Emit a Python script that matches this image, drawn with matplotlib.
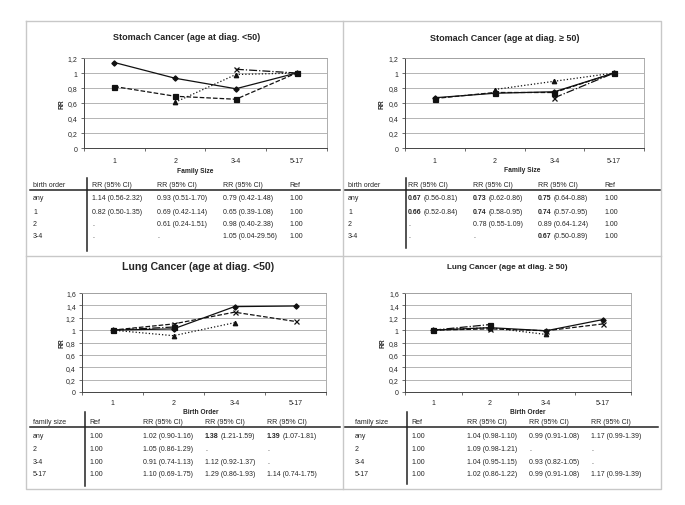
import numpy as np
import matplotlib
matplotlib.use("Agg")
import matplotlib.pyplot as plt
from matplotlib.ticker import FuncFormatter, MultipleLocator, FixedLocator

plt.rcParams['font.family'] = ['Liberation Sans', 'DejaVu Sans']

nan = np.nan

# ---------------- data ----------------
family_size_cats = ["1", "2", "3-4", "5-17"]
birth_order_cats = ["1", "2", "3-4", "5-17"]

# Stomach cancer, age <50 (x = family size)
st_lt50_any = [1.14, 0.93, 0.79, 1.00]
st_lt50_bo1 = [0.82, 0.69, 0.65, 1.00]
st_lt50_bo2 = [nan, 0.61, 0.98, 1.00]
st_lt50_bo34 = [nan, nan, 1.05, 1.00]

# Stomach cancer, age >=50
st_ge50_any = [0.67, 0.73, 0.75, 1.00]
st_ge50_bo1 = [0.66, 0.74, 0.74, 1.00]
st_ge50_bo2 = [nan, 0.78, 0.89, 1.00]
st_ge50_bo34 = [nan, nan, 0.67, 1.00]

# Lung cancer, age <50 (x = birth order)
lu_lt50_any = [1.00, 1.02, 1.38, 1.39]
lu_lt50_fs2 = [1.00, 1.05, nan, nan]
lu_lt50_fs34 = [1.00, 0.91, 1.12, nan]
lu_lt50_fs517 = [1.00, 1.10, 1.29, 1.14]

# Lung cancer, age >=50
lu_ge50_any = [1.00, 1.04, 0.99, 1.17]
lu_ge50_fs2 = [1.00, 1.09, nan, nan]
lu_ge50_fs34 = [1.00, 1.04, 0.93, nan]
lu_ge50_fs517 = [1.00, 1.02, 0.99, 1.10]

# tables
st_row_labels = ["any", "1", "2", "3-4"]
st_header = ["birth order", "RR (95% CI)", "RR (95% CI)", "RR (95% CI)", "Ref"]
st_lt50_table = [
    ["1.14 (0.56-2.32)", "0.93 (0.51-1.70)", "0.79 (0.42-1.48)", "1.00"],
    ["0.82 (0.50-1.35)", "0.69 (0.42-1.14)", "0.65 (0.39-1.08)", "1.00"],
    [".", "0.61 (0.24-1.51)", "0.98 (0.40-2.38)", "1.00"],
    [".", ".", "1.05 (0.04-29.56)", "1.00"],
]
st_lt50_bold = [[0, 0, 0, 0], [0, 0, 0, 0], [0, 0, 0, 0], [0, 0, 0, 0]]
st_ge50_table = [
    ["0.67 (0.56-0.81)", "0.73 (0.62-0.86)", "0.75 (0.64-0.88)", "1.00"],
    ["0.66 (0.52-0.84)", "0.74 (0.58-0.95)", "0.74 (0.57-0.95)", "1.00"],
    [".", "0.78 (0.55-1.09)", "0.89 (0.64-1.24)", "1.00"],
    [".", ".", "0.67 (0.50-0.89)", "1.00"],
]
st_ge50_bold = [[1, 1, 1, 0], [1, 1, 1, 0], [0, 0, 0, 0], [0, 0, 1, 0]]

lu_row_labels = ["any", "2", "3-4", "5-17"]
lu_header = ["family size", "Ref", "RR (95% CI)", "RR (95% CI)", "RR (95% CI)"]
lu_lt50_table = [
    ["1.00", "1.02 (0.90-1.16)", "1.38 (1.21-1.59)", "1.39 (1.07-1.81)"],
    ["1.00", "1.05 (0.86-1.29)", ".", "."],
    ["1.00", "0.91 (0.74-1.13)", "1.12 (0.92-1.37)", "."],
    ["1.00", "1.10 (0.69-1.75)", "1.29 (0.86-1.93)", "1.14 (0.74-1.75)"],
]
lu_lt50_bold = [[0, 0, 1, 1], [0, 0, 0, 0], [0, 0, 0, 0], [0, 0, 0, 0]]
lu_ge50_table = [
    ["1.00", "1.04 (0.98-1.10)", "0.99 (0.91-1.08)", "1.17 (0.99-1.39)"],
    ["1.00", "1.09 (0.98-1.21)", ".", "."],
    ["1.00", "1.04 (0.95-1.15)", "0.93 (0.82-1.05)", "."],
    ["1.00", "1.02 (0.86-1.22)", "0.99 (0.91-1.08)", "1.17 (0.99-1.39)"],
]
lu_ge50_bold = [[0, 0, 0, 0], [0, 0, 0, 0], [0, 0, 0, 0], [0, 0, 0, 0]]

# ---------------- figure ----------------
W, H = 685, 506
fig = plt.figure(figsize=(W / 100, H / 100), dpi=100)
fig.patch.set_facecolor("white")

over = fig.add_axes([0, 0, 1, 1])
over.set_xlim(0, W)
over.set_ylim(H, 0)
over.axis("off")

TXT = "#262626"

# outer frame and dividers
over.plot([26, 661, 661, 26, 26], [22, 22, 490, 490, 22], color="#c8c8c8", lw=1.0)
over.plot([343, 343], [22, 490], color="#c8c8c8", lw=1.0)
over.plot([26, 661], [257, 257], color="#c8c8c8", lw=1.0)

stomach_styles = [("-", "D", 2.7), ("--", "s", 3.6), (":", "^", 3.2), ("-.", "x", 3.6)]
lung_styles = [("-", "D", 2.7), ("-.", "s", 3.6), (":", "^", 3.2), ("--", "x", 3.6)]


def fmt(v, pos):
    s = "%g" % round(v, 1)
    return s.replace(".", ",")


def make_plot(l, r, t, b, series, styles, cats, ymax, title, tx, ty, tsize, xlabel, xlx, xly, rrx, xpad):
    ax = fig.add_axes([l / W, 1 - b / H, (r - l) / W, (b - t) / H])
    x = np.arange(len(cats)) + 0.5
    for vals, (ls, mk, ms) in zip(series, styles):
        ax.plot(x, vals, color="#111111", lw=0.9, ls=ls, marker=mk, ms=ms,
                mew=0.9, mfc="#111111", mec="#111111", zorder=3)
    ax.set_xlim(0, len(cats))
    ax.set_ylim(0, ymax)
    ax.yaxis.set_major_locator(MultipleLocator(0.2))
    ax.yaxis.set_major_formatter(FuncFormatter(fmt))
    ax.xaxis.set_major_locator(FixedLocator(np.arange(len(cats) + 1)))
    ax.xaxis.set_minor_locator(FixedLocator(x))
    ax.set_xticklabels([])
    ax.set_xticklabels(cats, minor=True)
    ax.tick_params(axis="x", which="major", length=2.5, width=0.6, color="#555555")
    ax.tick_params(axis="x", which="minor", length=0, labelsize=5, labelcolor=TXT, pad=xpad)
    ax.tick_params(axis="y", length=2.5, width=0.6, color="#555555", labelsize=5,
                   labelcolor=TXT, pad=2)
    ax.grid(axis="y", color="#a8a8a8", lw=0.6)
    ax.set_axisbelow(True)
    for s in ["top", "right"]:
        ax.spines[s].set_color("#a0a0a0")
        ax.spines[s].set_linewidth(0.6)
    for s in ["left", "bottom"]:
        ax.spines[s].set_color("#444444")
        ax.spines[s].set_linewidth(0.7)
    over.text(tx, ty, title, ha="center", va="center", fontsize=tsize, weight="bold", color=TXT)
    over.text(xlx, xly, xlabel, ha="center", va="center", fontsize=4.8, weight="bold", color=TXT)
    over.text(rrx, (t + b) / 2, "RR", ha="center", va="center", fontsize=4.8, weight="bold",
              rotation=90, color=TXT)
    return ax


def cell(x, y, s, bold):
    if bold and " " in s:
        a, rest = s.split(" ", 1)
        t1 = over.text(x, y, a, ha="left", va="center", fontsize=5, weight="bold", color=TXT)
        over.annotate(rest, xy=(1, 0.5), xycoords=t1, xytext=(1.5, 0), textcoords="offset points",
                      ha="left", va="center", fontsize=5, color=TXT)
    else:
        over.text(x, y, s, ha="left", va="center", fontsize=5, color=TXT)


def make_table(colx, hy, rows_y, header, labels, table, bold, line_y, lx0, lx1, vx, vy0, vy1):
    for cx, h in zip(colx, header):
        over.text(cx, hy, h, ha="left", va="center", fontsize=5, color=TXT)
    over.plot([lx0, lx1], [line_y, line_y], color="#222222", lw=1.1)
    over.plot([vx, vx], [vy0, vy1], color="#222222", lw=1.1)
    for ry, lab, row, brow in zip(rows_y, labels, table, bold):
        over.text(colx[0], ry, lab, ha="left", va="center", fontsize=5, color=TXT)
        for cx, s, bf in zip(colx[1:], row, brow):
            cell(cx, ry, s, bf)


# Stomach <50
make_plot(84, 327, 59, 149, [st_lt50_any, st_lt50_bo1, st_lt50_bo2, st_lt50_bo34],
          stomach_styles, family_size_cats, 1.2,
          "Stomach Cancer (age at diag. <50)", 187, 37, 6.5, "Family Size", 195, 171, 62, 6.5)
make_table([33, 92, 157, 223, 289], 185, [199, 212, 224, 237], st_header, st_row_labels,
           st_lt50_table, st_lt50_bold, 191, 30, 340, 87, 179, 252)

# Stomach >=50
make_plot(405, 644, 59, 149, [st_ge50_any, st_ge50_bo1, st_ge50_bo2, st_ge50_bo34],
          stomach_styles, family_size_cats, 1.2,
          "Stomach Cancer (age at diag. \u2265 50)", 505, 38, 6.5, "Family Size", 522, 170, 382, 6.5)
make_table([348, 408, 473, 538, 604], 185, [199, 212, 224, 237], st_header, st_row_labels,
           st_ge50_table, st_ge50_bold, 191, 345, 660, 406, 179, 249)

# Lung <50
make_plot(82, 326, 294, 393, [lu_lt50_any, lu_lt50_fs2, lu_lt50_fs34, lu_lt50_fs517],
          lung_styles, birth_order_cats, 1.6,
          "Lung Cancer (age at diag. <50)", 198, 267, 7.6, "Birth Order", 201, 413, 62, 5)
make_table([33, 89, 143, 205, 267], 423, [437, 450, 463, 475], lu_header, lu_row_labels,
           lu_lt50_table, lu_lt50_bold, 428, 30, 340, 85, 413, 487)

# Lung >=50
make_plot(405, 631, 294, 393, [lu_ge50_any, lu_ge50_fs2, lu_ge50_fs34, lu_ge50_fs517],
          lung_styles, birth_order_cats, 1.6,
          "Lung Cancer (age at diag. \u2265 50)", 507, 267, 5.9, "Birth Order", 528, 413, 383, 5)
make_table([355, 411, 467, 529, 591], 423, [437, 450, 463, 475], lu_header, lu_row_labels,
           lu_ge50_table, lu_ge50_bold, 428, 345, 658, 407, 413, 485)

fig.savefig("out.png", dpi=100, facecolor="white")
